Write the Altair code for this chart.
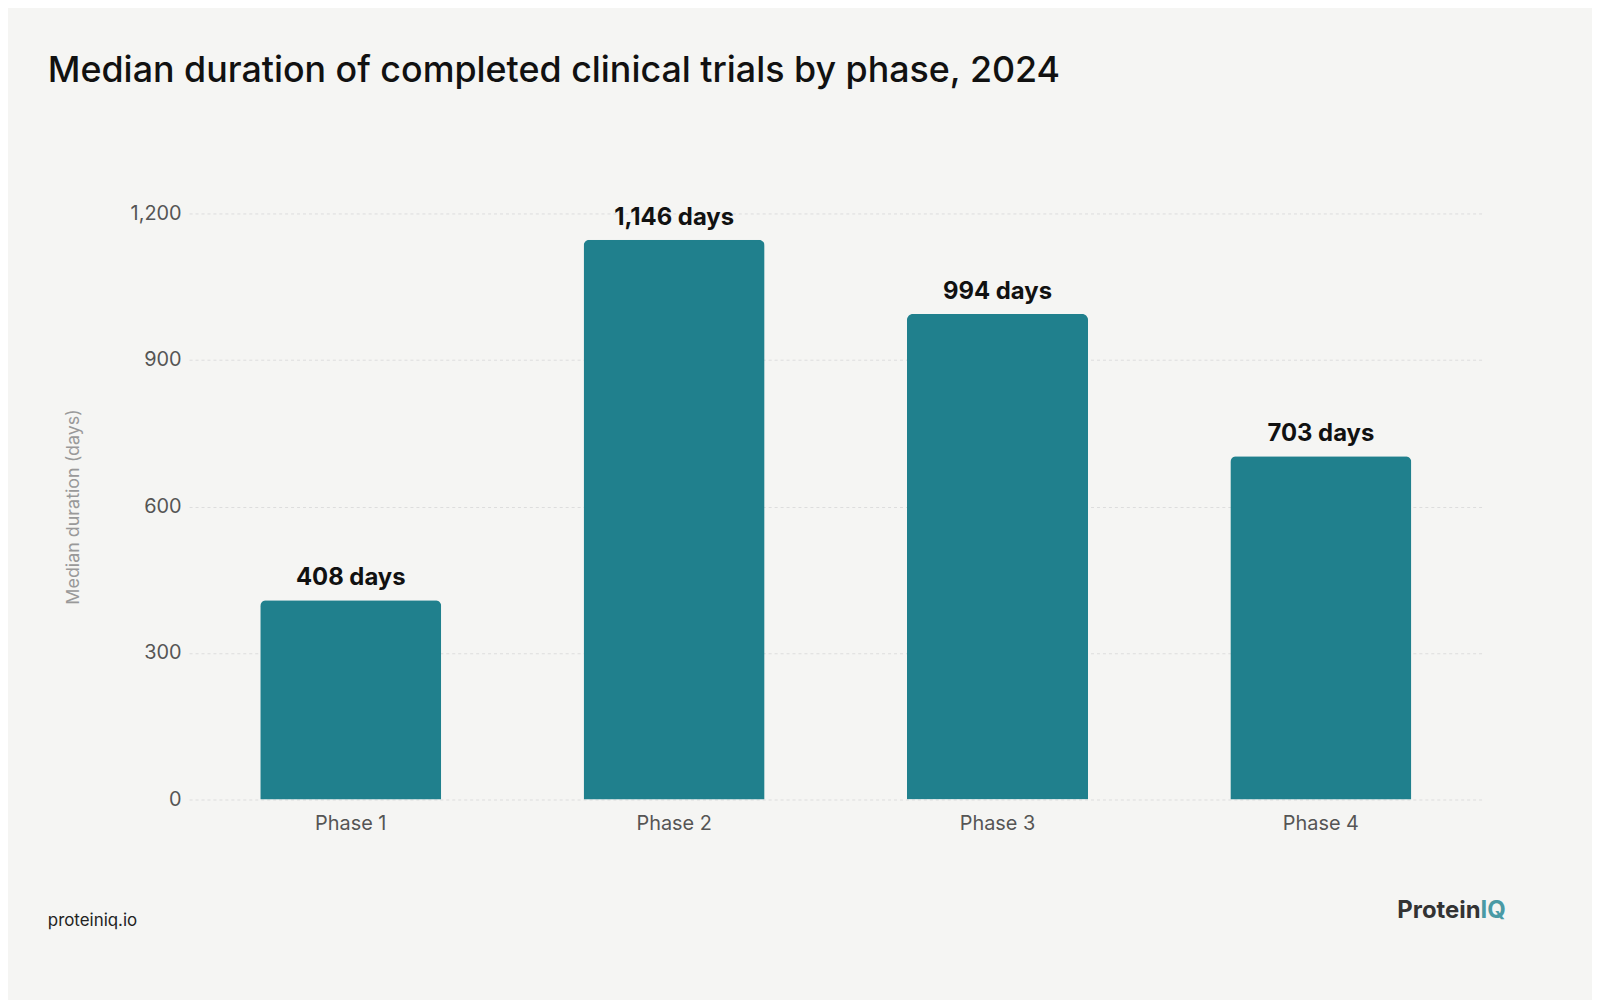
import altair as alt
import pandas as pd

phases = ["Phase 1", "Phase 2", "Phase 3", "Phase 4"]
days = [408, 1146, 994, 703]
labels = ["408 days", "1,146 days", "994 days", "703 days"]
ticks = [0, 300, 600, 900, 1200]

df = pd.DataFrame({"phase": phases, "days": days, "label": labels})

base = alt.Chart(df)

bars = base.mark_bar(color="#20808d", cornerRadiusTopLeft=6, cornerRadiusTopRight=6).encode(
    x=alt.X("phase:N", sort=phases, title=None,
            scale=alt.Scale(paddingInner=0.44, paddingOuter=0.22),
            axis=alt.Axis(labelAngle=0, labelFontSize=20, labelColor="#555555",
                          labelFont="Inter", domain=False, ticks=False, labelPadding=14)),
    y=alt.Y("days:Q", title="Median duration (days)",
            scale=alt.Scale(domain=[0, 1200]),
            axis=alt.Axis(values=ticks, format=",.0f", labelFontSize=20,
                          labelColor="#555555", labelFont="Inter", domain=False, ticks=False,
                          labelPadding=8, gridColor="#dddddd", gridDash=[3, 3],
                          titleFontSize=18, titleColor="#999999", titleFontWeight="normal",
                          titleFont="Inter", titlePadding=48)),
)

text = base.mark_text(dy=-22, fontSize=24, fontWeight="bold", font="Inter", color="#111111").encode(
    x=alt.X("phase:N", sort=phases),
    y="days:Q",
    text="label:N",
)

title = alt.Chart(pd.DataFrame({"t": ["Median duration of completed clinical trials by phase, 2024"]})).mark_text(
    align="left", baseline="alphabetic", fontSize=36, font="Inter", fontWeight=500, color="#111111"
).encode(x=alt.value(-142), y=alt.value(-132), text="t:N")

foot = alt.Chart(pd.DataFrame({"t": ["proteiniq.io"]})).mark_text(
    align="left", fontSize=17, font="Inter", color="#222222"
).encode(x=alt.value(-142), y=alt.value(122 + 589), text="t:N")

logo1 = alt.Chart(pd.DataFrame({"t": ["Protein"]})).mark_text(
    align="right", fontSize=24, font="Inter", fontWeight="bold", color="#333333"
).encode(x=alt.value(1298), y=alt.value(112 + 589), text="t:N")

logo2 = alt.Chart(pd.DataFrame({"t": ["IQ"]})).mark_text(
    align="left", fontSize=24, font="Inter", fontWeight="bold", color="#4a9aa5"
).encode(x=alt.value(1298), y=alt.value(112 + 589), text="t:N")

chart = alt.layer(bars, text, title, foot, logo1, logo2).properties(
    width=1300, height=589,
    autosize=alt.AutoSizeParams(type="none"),
    padding={"left": 182, "top": 204, "right": 110, "bottom": 200},
    background="#f5f5f3",
).configure_view(strokeWidth=0)

chart.save("out.html", embed_options={"renderer": "svg", "actions": False})
